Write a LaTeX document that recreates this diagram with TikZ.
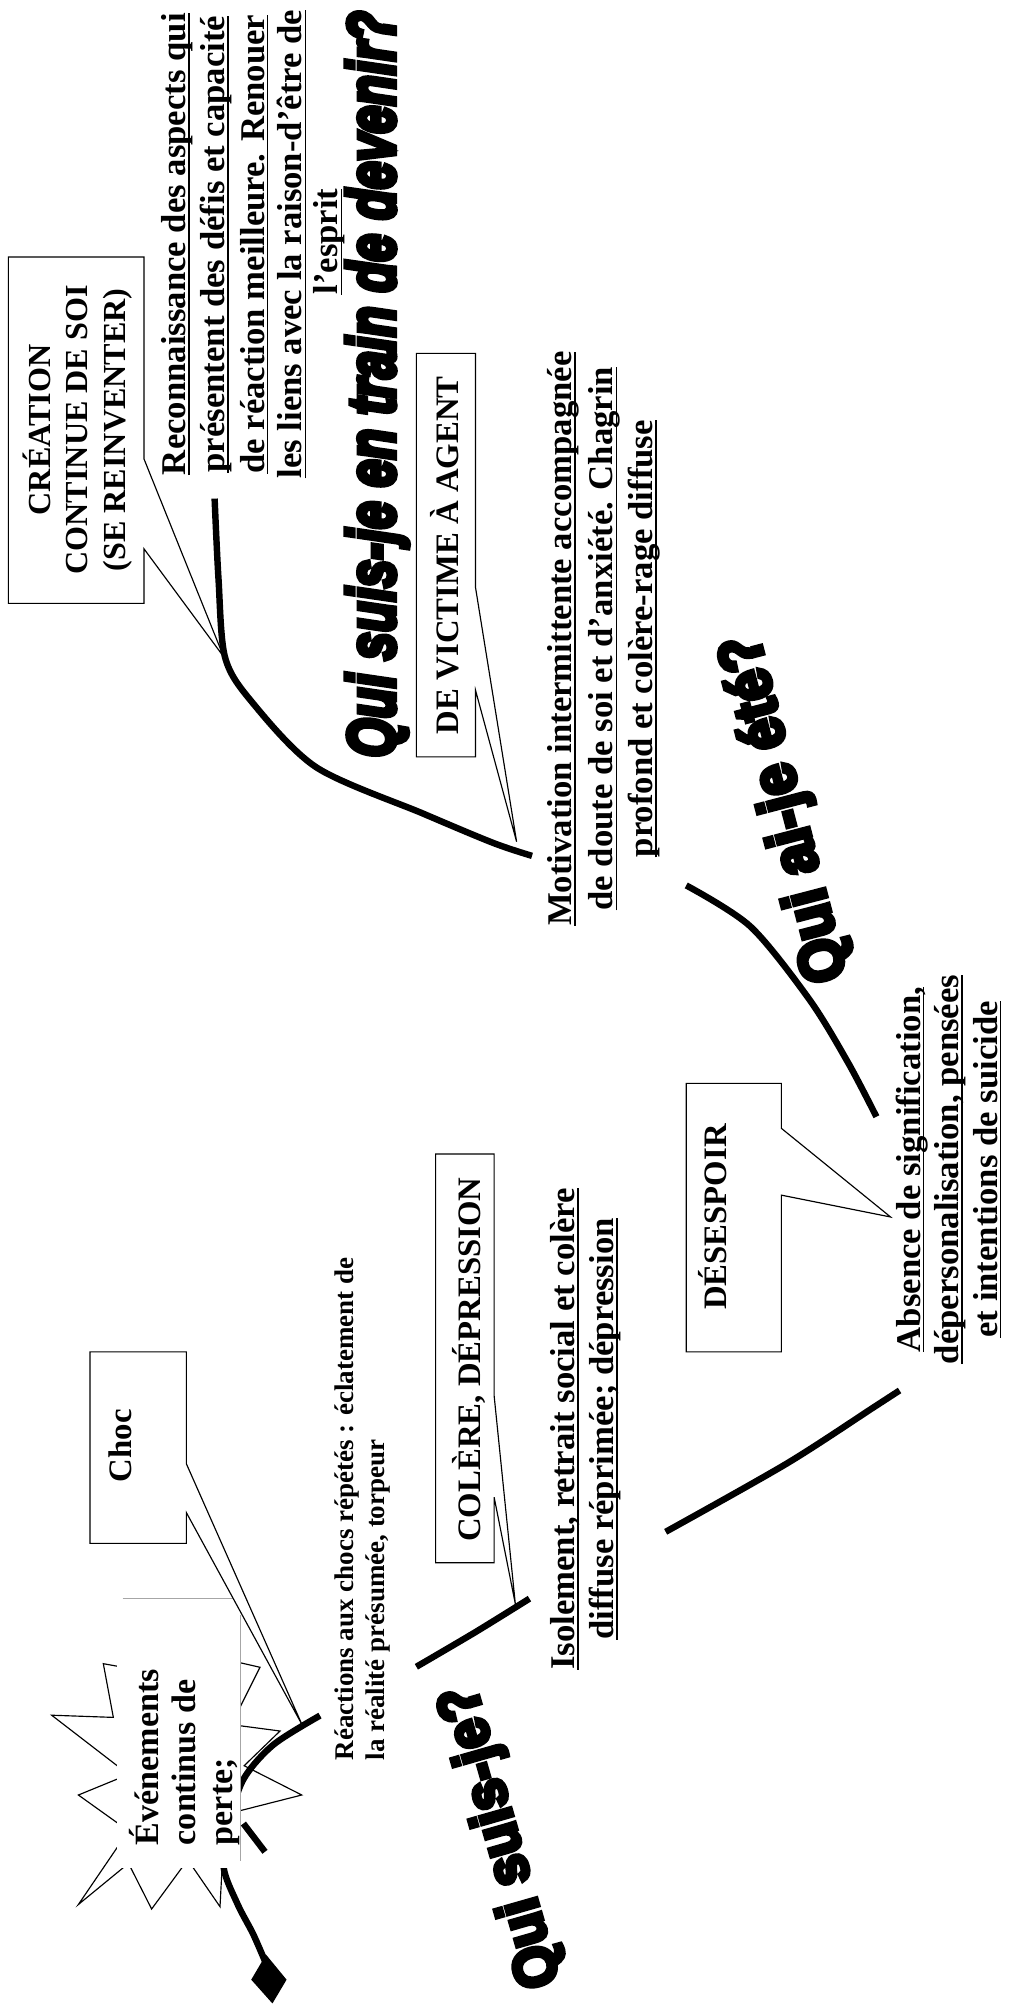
\documentclass[tikz,border=0pt]{standalone}
\usepackage{fontspec}
\usepackage{graphicx}
\setmainfont{Liberation Serif}
\newfontfamily\heavy{Liberation Sans}[FakeBold=8]

% underline that sits just under the baseline
\newsavebox{\ulbox}
\newcommand{\uline}[1]{\sbox{\ulbox}{#1}\rlap{\rule[-3.3pt]{\wd\ulbox}{1.3pt}}\usebox{\ulbox}}

\tikzset{
  bar/.style={line width=5pt},
  callout/.style={draw=black, line width=0.9pt, fill=white, line join=miter},
  burst/.style={draw=black, line width=0.9pt, fill=white, line join=miter},
  bodytext/.style={rotate=90, anchor=base, inner sep=0pt, font=\bfseries\fontsize{27}{30}\selectfont},
  bodyleft/.style={bodytext, anchor=base west, font=\bfseries\fontsize{26.5}{29}\selectfont},
  smalltext/.style={rotate=90, anchor=base west, inner sep=0pt, font=\bfseries\fontsize{21}{23}\selectfont},
  boxbold/.style={rotate=90, anchor=base, inner sep=0pt, font=\bfseries\fontsize{25.5}{30}\selectfont},
  graffiti/.style={inner sep=0pt, font=\heavy\bfseries\fontsize{44}{48}\selectfont},
}

\begin{document}
\begin{tikzpicture}[x=1pt,y=-1pt]
\useasboundingbox (0,0) rectangle (786,1568);
\fill[white] (0,0) rectangle (786,1568);

% ---------- starburst: continuous loss ----------
\draw[burst] (80.4,1294.6) -- (88.2,1336.4) -- (40.2,1334.7) -- (100,1380.8)
  -- (61,1396.8) -- (100,1424.7) -- (61,1482) -- (100,1450) -- (118,1485.5)
  -- (146.1,1447.2) -- (171.2,1483.7) -- (175,1412) -- (234.8,1396.8)
  -- (190,1374) -- (217.9,1347) -- (180,1342) -- (202.3,1297.4)
  -- (170,1290) -- (140,1255) -- (110,1300) -- cycle;

% first stretch of the path, from the start marker up to the shock
\coordinate (shock) at (235,1342);
\draw[bar] plot[smooth] coordinates {(207,1528) (197,1505) (185,1482) (174,1453)
  (178,1420) (189.4,1384.6) (212.7,1357.7) (249,1335)};
\fill (207,1521) -- (223,1540.5) -- (212,1559) -- (195.5,1540.5) -- cycle;

% text frame over the burst
\fill[white] (91,1244) rectangle (187.3,1453.6);
\draw[gray!70, line width=0.8pt] (95.5,1244) -- (181.6,1244);
\draw[gray!70, line width=0.8pt] (187.3,1256.6) -- (187.3,1448.2);
\draw[bar] (189.4,1419) -- (206.2,1441);

\node[bodyleft] (eve1) at (123,1436) {Événements};
\node[bodyleft] (eve2) at (152,1436) {continus de};
\node[bodyleft] (eve3) at (181,1436) {perte;};

% ---------- callouts ----------
\draw[callout] (70,1052) -- (145,1052) -- (145,1139) -- (shock) -- (145,1177) -- (145,1201) -- (70,1201) -- cycle;
\node[boxbold] (choc) at (102,1125) {Choc};

\coordinate (creationtip) at (174,511);
\draw[callout] (6.5,200) -- (112,200) -- (112,357) -- (creationtip) -- (112,427) -- (112,469.5) -- (6.5,469.5) -- cycle;
\node[boxbold, font=\bfseries\fontsize{25}{30}\selectfont] (cre1) at (39,334.5) {CRÉATION};
\node[boxbold, font=\bfseries\fontsize{25}{30}\selectfont] (cre2) at (68,334.5) {CONTINUE DE SOI};
\node[boxbold, font=\bfseries\fontsize{25}{30}\selectfont] (cre3) at (98,334.5) {(SE REINVENTER)};

\coordinate (victimetip) at (402,655);
\draw[callout] (324,275) -- (370,275) -- (370,457) -- (victimetip) -- (370,537) -- (370,589) -- (324,589) -- cycle;
\node[boxbold] (victime) at (357,432) {DE VICTIME À AGENT};

\coordinate (coleretip) at (401,1248);
\draw[callout] (339,898) -- (384.5,898) -- (384.5,1086) -- (coleretip) -- (384.5,1165) -- (384.5,1216) -- (339,1216) -- cycle;
\node[boxbold] (colere) at (374,1058) {COLÈRE, DÉPRESSION};

\coordinate (desespoirtip) at (693,947);
\draw[callout] (534,843) -- (608,843) -- (608,878) -- (desespoirtip) -- (608,930) -- (608,1052) -- (534,1052) -- cycle;
\node[boxbold] (desespoir) at (565.5,947) {DÉSESPOIR};

% ---------- thick path pieces ----------
\draw[bar] plot[smooth] coordinates {(324,1297) (370,1270) (412,1244)};
\draw[bar] plot[smooth] coordinates {(518,1192) (612,1139) (680,1095) (700,1082)};
\draw[bar] plot[smooth] coordinates {(534,689) (584,721) (630,778) (660,827) (682,869)};
\draw[bar] plot[smooth] coordinates {(167,388) (170,450) (175,511) (195,545) (246,597) (329,633) (384,656) (414,666)};

% ---------- stage descriptions ----------
\node[smalltext] (rea1) at (275,1370) {Réactions aux chocs répétés : éclatement de};
\node[smalltext] (rea2) at (299.5,1370) {la réalité présumée, torpeur};

\node[bodytext] (iso1) at (447,1112) {\uline{Isolement, retrait social et colère}};
\node[bodytext] (iso2) at (477.5,1112) {\uline{diffuse réprimée; dépression}};

\node[bodytext] (abs1) at (716,910) {\uline{Absence de signification,}};
\node[bodytext] (abs2) at (746,910) {\uline{dépersonalisation, pensées}};
\node[bodytext] (abs3) at (776,910) {\uline{et intentions de suicide}};

\node[bodytext] (mot1) at (445,497) {\uline{Motivation intermittente accompagnée}};
\node[bodytext] (mot2) at (477,497) {\uline{de doute de soi et d’anxiété. Chagrin}};
\node[bodytext] (mot3) at (508,497) {\uline{profond et colère-rage diffuse}};

\node[bodytext] (rec1) at (144.5,190) {\uline{Reconnaissance des aspects qui}};
\node[bodytext] (rec2) at (175,190) {\uline{présentent des défis et capacité}};
\node[bodytext] (rec3) at (205.5,190) {\uline{de réaction meilleure. Renouer}};
\node[bodytext] (rec4) at (235,190) {\uline{les liens avec la raison-d’être de}};
\node[bodytext] (rec5) at (263,188) {\uline{l’esprit}};

% ---------- questions ----------
\node[graffiti, rotate=90, anchor=base, font=\heavy\bfseries\itshape\fontsize{52}{56}\selectfont] (qdevenir) at (307,299) {\scalebox{0.75}[1]{Qui suis-je en train de devenir?}};
\node[graffiti, rotate=104.6, font=\heavy\bfseries\fontsize{48}{52}\selectfont] (qete) at (612,629) {\scalebox{0.92}[1]{Qui ai-je été?}};
\node[graffiti, rotate=106, font=\heavy\bfseries\fontsize{46}{50}\selectfont] (qsuis) at (391,1429) {\scalebox{0.92}[1]{Qui suis-je?}};

\end{tikzpicture}
\end{document}
